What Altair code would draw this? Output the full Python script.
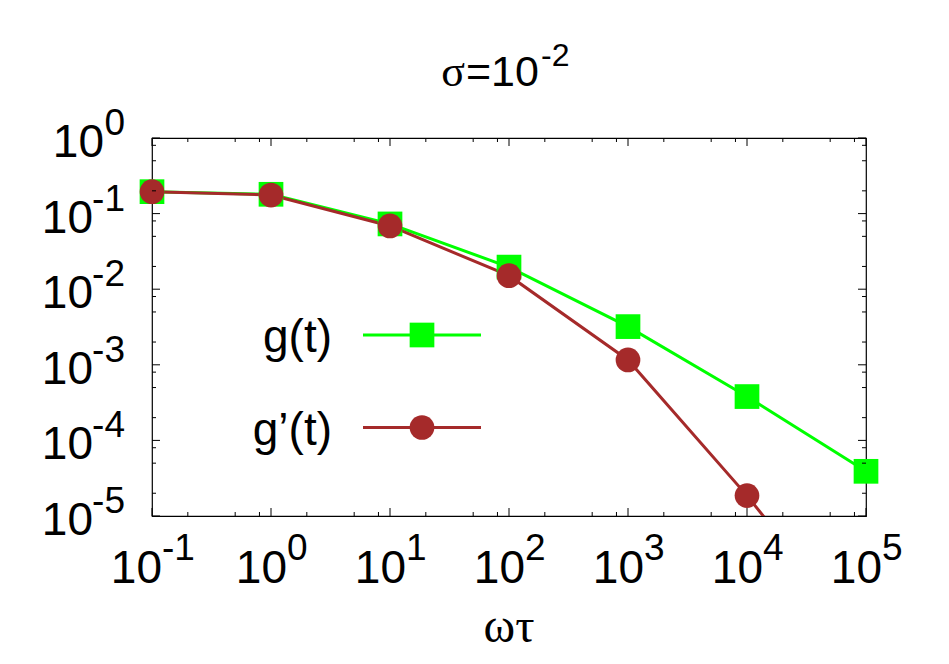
import altair as alt
import pandas as pd

# ---------------- data ----------------
omega_tau = [0.1, 1, 10, 100, 1000, 10000, 100000]
g_vals = [0.195, 0.18, 0.073, 0.0196, 0.0032, 3.8e-4, 3.9e-5]
gp_vals = [0.195, 0.176, 0.0686, 0.0151, 0.00116, 1.86e-5, 2.0e-7]
series_names = ["g(t)", "g\u2019(t)"]
series_colors = ["#00ff00", "#a52a2a"]
series_shapes = ["square", "circle"]

x_decades = [0.1, 1, 10, 100, 1000, 10000, 100000]
x_exponents = ["-1", "0", "1", "2", "3", "4", "5"]
y_decades = [1, 0.1, 0.01, 0.001, 0.0001, 0.00001]
y_exponents = ["0", "-1", "-2", "-3", "-4", "-5"]
minor_multipliers = [2, 5, 8]
title_parts = ["\u03c3", "=10", "-2"]
x_title = "\u03c9\u03c4"

W, H = 714, 378
FONT = "Liberation Sans"
SERIF = "Liberation Serif"
Y_MIN, Y_MAX = 1e-5, 1

df = pd.DataFrame({
    "wt": omega_tau * 2,
    "val": g_vals + gp_vals,
    "series": [series_names[0]] * len(omega_tau) + [series_names[1]] * len(omega_tau),
})

xs = alt.Scale(type="log", domain=[0.1, 1e5], nice=False)
ys = alt.Scale(type="log", domain=[Y_MIN, Y_MAX], nice=False)
cs = alt.Scale(domain=series_names, range=series_colors)
COLOR = alt.Color("series:N", scale=cs, legend=None)

X = alt.X("wt:Q", scale=xs, axis=None)
Y = alt.Y("val:Q", scale=ys, axis=None)

base = alt.Chart(df)
lines = base.mark_line(strokeWidth=3, clip=True).encode(X, Y, color=COLOR)
point_layers = []
for name, shp in zip(series_names, series_shapes):
    point_layers.append(
        base.transform_filter(alt.datum.series == name)
        .transform_filter(alt.datum.val >= Y_MIN)
        .mark_point(shape=shp, filled=True, size=610, opacity=1)
        .encode(X, Y, color=COLOR))

# ---------------- key (inside the plot) ----------------
key_df = pd.DataFrame({"series": series_names})
key_rows_y = [197, 289.5]
key_layers = []
for name, shp, ky in zip(series_names, series_shapes, key_rows_y):
    kb = alt.Chart(key_df).transform_filter(alt.datum.series == name)
    key_layers.append(kb.mark_rule(strokeWidth=3).encode(
        x=alt.value(211), x2=alt.value(329), y=alt.value(ky), color=COLOR))
    key_layers.append(kb.mark_point(shape=shp, filled=True, size=610, opacity=1).encode(
        x=alt.value(270), y=alt.value(ky), color=COLOR))
    key_layers.append(kb.mark_text(align="right", baseline="alphabetic", font=FONT,
                                   fontSize=46, dy=17, color="black").encode(
        x=alt.value(180), y=alt.value(ky), text="series:N"))

# ---------------- ticks (inward, mirrored) ----------------
x_minor = [d * m for d in x_decades[:-1] for m in minor_multipliers]
y_minor = [d * m for d in y_decades[1:] for m in minor_multipliers]
xmaj = pd.DataFrame({"t": x_decades})
xmin = pd.DataFrame({"t": x_minor})
ymaj = pd.DataFrame({"t": y_decades})
ymin = pd.DataFrame({"t": y_minor})
XT = alt.X("t:Q", scale=xs, axis=None)
YT = alt.Y("t:Q", scale=ys, axis=None)

tick_layers = []
for d, L in [(xmaj, 8), (xmin, 4)]:
    tick_layers.append(alt.Chart(d).mark_rule(color="black", strokeWidth=1).encode(
        x=XT, y=alt.value(H), y2=alt.value(H - L)))
    tick_layers.append(alt.Chart(d).mark_rule(color="black", strokeWidth=1).encode(
        x=XT, y=alt.value(0), y2=alt.value(L)))
for d, L in [(ymaj, 8), (ymin, 4)]:
    tick_layers.append(alt.Chart(d).mark_rule(color="black", strokeWidth=1).encode(
        y=YT, x=alt.value(0), x2=alt.value(L)))
    tick_layers.append(alt.Chart(d).mark_rule(color="black", strokeWidth=1).encode(
        y=YT, x=alt.value(W), x2=alt.value(W - L)))

# ---------------- tick labels ----------------
xlab = pd.DataFrame({"t": x_decades, "exp": x_exponents,
                     "neg": [e.startswith("-") for e in x_exponents]})
ylab = pd.DataFrame({"t": y_decades, "exp": y_exponents,
                     "neg": [e.startswith("-") for e in y_exponents]})

label_layers = []
for neg, bdx in [(False, 16), (True, 10)]:
    flt = "datum.neg" if neg else "!datum.neg"
    label_layers.append(alt.Chart(xlab).transform_filter(flt).mark_text(
        text="10", align="right", baseline="alphabetic", font=FONT, fontSize=46,
        dx=bdx, dy=67, color="black").encode(x=XT, y=alt.value(H)))
    label_layers.append(alt.Chart(xlab).transform_filter(flt).mark_text(
        align="left", baseline="alphabetic", font=FONT, fontSize=37,
        dx=bdx, dy=44, color="black").encode(x=XT, y=alt.value(H), text="exp:N"))
for neg, bdx in [(False, -48), (True, -59)]:
    flt = "datum.neg" if neg else "!datum.neg"
    label_layers.append(alt.Chart(ylab).transform_filter(flt).mark_text(
        text="10", align="right", baseline="alphabetic", font=FONT, fontSize=46,
        dx=bdx, dy=19, color="black").encode(y=YT, x=alt.value(0)))
label_layers.append(alt.Chart(ylab).mark_text(
    align="right", baseline="alphabetic", font=FONT, fontSize=37,
    dx=-27, dy=-3, color="black").encode(y=YT, x=alt.value(0), text="exp:N"))

# ---------------- titles ----------------
one = pd.DataFrame({"a": [0]})
title_layers = [
    alt.Chart(one).mark_text(text=title_parts[0], align="right", baseline="alphabetic",
                             font=SERIF, fontSize=44, color="black").encode(
        x=alt.value(313), y=alt.value(-52)),
    alt.Chart(one).mark_text(text=title_parts[1], align="left", baseline="alphabetic",
                             font=FONT, fontSize=43, color="black").encode(
        x=alt.value(314), y=alt.value(-52)),
    alt.Chart(one).mark_text(text=title_parts[2], align="left", baseline="alphabetic",
                             font=FONT, fontSize=32, color="black").encode(
        x=alt.value(389), y=alt.value(-72)),
    alt.Chart(one).mark_text(text=x_title, align="center", baseline="alphabetic",
                             font=SERIF, fontSize=48, color="black").encode(
        x=alt.value(W / 2), y=alt.value(504)),
]

chart = alt.layer(lines, *point_layers, *key_layers,
                  *tick_layers, *label_layers, *title_layers).properties(
    width=W, height=H,
    padding={"left": 144, "top": 130, "right": 75, "bottom": 140},
    autosize=alt.AutoSizeParams(type="none"),
).configure_view(stroke="black", strokeWidth=1.2, fill="white")

chart.save("out.html", embed_options={"renderer": "svg", "actions": False})
